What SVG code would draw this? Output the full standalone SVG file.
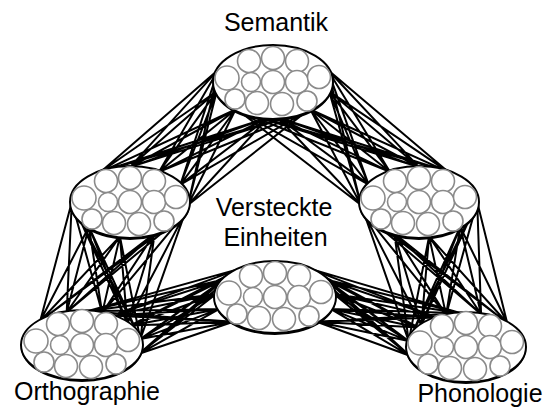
<svg xmlns="http://www.w3.org/2000/svg" xmlns:xlink="http://www.w3.org/1999/xlink" width="548" height="408" viewBox="0 0 548 408">
  <style>
    .link { fill: none; stroke: #000; stroke-width: 2; stroke-linecap: round; }
    .shade { fill: #000; }
    .pool { fill: #fff; stroke: #000; stroke-width: 2; }
    .unit { fill: #fff; stroke: #8a8a8a; stroke-width: 1.6; }
    .label { font-family: "Liberation Sans", Arial, sans-serif; font-size: 25px; fill: #000; }
  </style>
  <defs>
    <!-- thirteen units packed inside one pool, centred on 0,0 -->
    <g id="units">
      <circle class="unit" cx="-24" cy="-21" r="11.5"/>
      <circle class="unit" cx="0" cy="-24" r="11.5"/>
      <circle class="unit" cx="24" cy="-21" r="11.5"/>
      <circle class="unit" cx="-46" cy="-4" r="12"/>
      <circle class="unit" cx="-22" cy="0" r="9.5"/>
      <circle class="unit" cx="0" cy="0" r="11.5"/>
      <circle class="unit" cx="24" cy="0" r="11.5"/>
      <circle class="unit" cx="46" cy="-5" r="11.5"/>
      <circle class="unit" cx="-38" cy="17" r="10"/>
      <circle class="unit" cx="-16" cy="21" r="11.5"/>
      <circle class="unit" cx="9" cy="22" r="11.5"/>
      <circle class="unit" cx="34" cy="19" r="10"/>
    </g>
  </defs>

  <g id="connectors">
    <!-- Semantik <-> left hidden pool -->
    <path class="link" d="M218.3 69.7L100.9 171.8M218.3 69.7L130 167.1M218.3 69.7L159.1 171.8M218.3 69.7L180.4 184.6M218.3 69.7L188 205
      M216.8 91.3L100.9 171.8M216.8 91.3L130 167.1M216.8 91.3L159.1 171.8M216.8 91.3L180.4 184.6M216.8 91.3L188 205
      M235.6 109.5L100.9 171.8M235.6 109.5L130 167.1M235.6 109.5L159.1 171.8M235.6 109.5L180.4 184.6M235.6 109.5L188 205
      M267.9 117.8L100.9 171.8M267.9 117.8L130 167.1M267.9 117.8L159.1 171.8M267.9 117.8L180.4 184.6M267.9 117.8L188 205
      M306.4 111.4L100.9 171.8M306.4 111.4L130 167.1M306.4 111.4L159.1 171.8M306.4 111.4L180.4 184.6M306.4 111.4L188 205"/>
    <!-- Semantik <-> right hidden pool -->
    <path class="link" d="M327.7 69.7L448.1 171.8M327.7 69.7L419 167.1M327.7 69.7L389.9 171.8M327.7 69.7L368.6 184.6M327.7 69.7L361 205
      M329.2 91.3L448.1 171.8M329.2 91.3L419 167.1M329.2 91.3L389.9 171.8M329.2 91.3L368.6 184.6M329.2 91.3L361 205
      M310.4 109.5L448.1 171.8M310.4 109.5L419 167.1M310.4 109.5L389.9 171.8M310.4 109.5L368.6 184.6M310.4 109.5L361 205
      M278.1 117.8L448.1 171.8M278.1 117.8L419 167.1M278.1 117.8L389.9 171.8M278.1 117.8L368.6 184.6M278.1 117.8L361 205
      M239.6 111.4L448.1 171.8M239.6 111.4L419 167.1M239.6 111.4L389.9 171.8M239.6 111.4L368.6 184.6M239.6 111.4L361 205"/>
    <!-- left hidden pool <-> Orthographie -->
    <path class="link" d="M71.8 202L66.7 312.2M71.8 202L40.2 321M71.8 202L102.2 313.1M71.8 202L127.3 323.2M71.8 202L140.3 339.1
      M88.9 226.7L66.7 312.2M88.9 226.7L40.2 321M88.9 226.7L102.2 313.1M88.9 226.7L127.3 323.2M88.9 226.7L140.3 339.1
      M119.9 236.4L66.7 312.2M119.9 236.4L40.2 321M119.9 236.4L102.2 313.1M119.9 236.4L127.3 323.2M119.9 236.4L140.3 339.1
      M154.6 233.6L66.7 312.2M154.6 233.6L40.2 321M154.6 233.6L102.2 313.1M154.6 233.6L127.3 323.2M154.6 233.6L140.3 339.1
      M184.7 213.9L66.7 312.2M184.7 213.9L40.2 321M184.7 213.9L102.2 313.1M184.7 213.9L127.3 323.2M184.7 213.9L140.3 339.1"/>
    <!-- Orthographie <-> centre hidden pool -->
    <path class="link" d="M87.2 311.2L241.1 268.4M87.2 311.2L223.8 279.5M87.2 311.2L216.1 294M87.2 311.2L219.4 308.9M87.2 311.2L233.2 321.7
      M111.6 315.6L241.1 268.4M111.6 315.6L223.8 279.5M111.6 315.6L216.1 294M111.6 315.6L219.4 308.9M111.6 315.6L233.2 321.7
      M130.5 325.5L241.1 268.4M130.5 325.5L223.8 279.5M130.5 325.5L216.1 294M130.5 325.5L219.4 308.9M130.5 325.5L233.2 321.7
      M140.3 339.1L241.1 268.4M140.3 339.1L223.8 279.5M140.3 339.1L216.1 294M140.3 339.1L219.4 308.9M140.3 339.1L233.2 321.7
      M139.2 353.8L241.1 268.4M139.2 353.8L223.8 279.5M139.2 353.8L216.1 294M139.2 353.8L219.4 308.9M139.2 353.8L233.2 321.7"/>
    <!-- centre hidden pool <-> Phonologie -->
    <path class="link" d="M308.9 268.4L460.9 313.2M308.9 268.4L436.9 317.6M308.9 268.4L418.3 327.5M308.9 268.4L408.7 341.1M308.9 268.4L409.8 355.8
      M326.2 279.5L460.9 313.2M326.2 279.5L436.9 317.6M326.2 279.5L418.3 327.5M326.2 279.5L408.7 341.1M326.2 279.5L409.8 355.8
      M333.9 294L460.9 313.2M333.9 294L436.9 317.6M333.9 294L418.3 327.5M333.9 294L408.7 341.1M333.9 294L409.8 355.8
      M330.6 308.9L460.9 313.2M330.6 308.9L436.9 317.6M330.6 308.9L418.3 327.5M330.6 308.9L408.7 341.1M330.6 308.9L409.8 355.8
      M316.8 321.7L460.9 313.2M316.8 321.7L436.9 317.6M316.8 321.7L418.3 327.5M316.8 321.7L408.7 341.1M316.8 321.7L409.8 355.8"/>
    <!-- right hidden pool <-> Phonologie -->
    <path class="link" d="M477.2 202L481.1 314.2M477.2 202L507.2 323M477.2 202L446.1 315.1M477.2 202L421.4 325.2M477.2 202L408.7 341.1
      M460.2 226.7L481.1 314.2M460.2 226.7L507.2 323M460.2 226.7L446.1 315.1M460.2 226.7L421.4 325.2M460.2 226.7L408.7 341.1
      M429.1 236.4L481.1 314.2M429.1 236.4L507.2 323M429.1 236.4L446.1 315.1M429.1 236.4L421.4 325.2M429.1 236.4L408.7 341.1
      M394.4 233.6L481.1 314.2M394.4 233.6L507.2 323M394.4 233.6L446.1 315.1M394.4 233.6L421.4 325.2M394.4 233.6L408.7 341.1
      M364.3 213.9L481.1 314.2M364.3 213.9L507.2 323M364.3 213.9L446.1 315.1M364.3 213.9L421.4 325.2M364.3 213.9L408.7 341.1"/>
  </g>

  <g id="semantik">
    <ellipse class="shade" cx="273" cy="84" rx="60" ry="37"/>
    <ellipse class="pool" cx="273" cy="82" rx="60" ry="37"/>
    <use xlink:href="#units" href="#units" transform="translate(273,82)"/>
    <text class="label" x="276" y="31" text-anchor="middle">Semantik</text>
  </g>

  <g id="hidden-left">
    <ellipse class="shade" cx="130" cy="204" rx="60" ry="36"/>
    <ellipse class="pool" cx="130" cy="202" rx="60" ry="36"/>
    <use xlink:href="#units" href="#units" transform="translate(130,202)"/>
  </g>

  <g id="hidden-right">
    <ellipse class="shade" cx="419" cy="204" rx="60" ry="36"/>
    <ellipse class="pool" cx="419" cy="202" rx="60" ry="36"/>
    <use xlink:href="#units" href="#units" transform="translate(419,202)"/>
  </g>

  <g id="hidden-centre">
    <ellipse class="shade" cx="275" cy="299" rx="61" ry="36"/>
    <ellipse class="pool" cx="275" cy="297" rx="61" ry="36"/>
    <use xlink:href="#units" href="#units" transform="translate(275,297)"/>
    <text class="label" x="274" y="216" text-anchor="middle">Versteckte</text>
    <text class="label" x="275.5" y="245.5" text-anchor="middle">Einheiten</text>
  </g>

  <g id="orthographie">
    <ellipse class="shade" cx="82" cy="347" rx="61" ry="35"/>
    <ellipse class="pool" cx="82" cy="345" rx="61" ry="35"/>
    <use xlink:href="#units" href="#units" transform="translate(82,345)"/>
    <text class="label" x="14" y="400">Orthographie</text>
  </g>

  <g id="phonologie">
    <ellipse class="shade" cx="466" cy="349" rx="60" ry="35"/>
    <ellipse class="pool" cx="466" cy="347" rx="60" ry="35"/>
    <use xlink:href="#units" href="#units" transform="translate(466,347)"/>
    <text class="label" x="480" y="402" text-anchor="middle">Phonologie</text>
  </g>
</svg>
